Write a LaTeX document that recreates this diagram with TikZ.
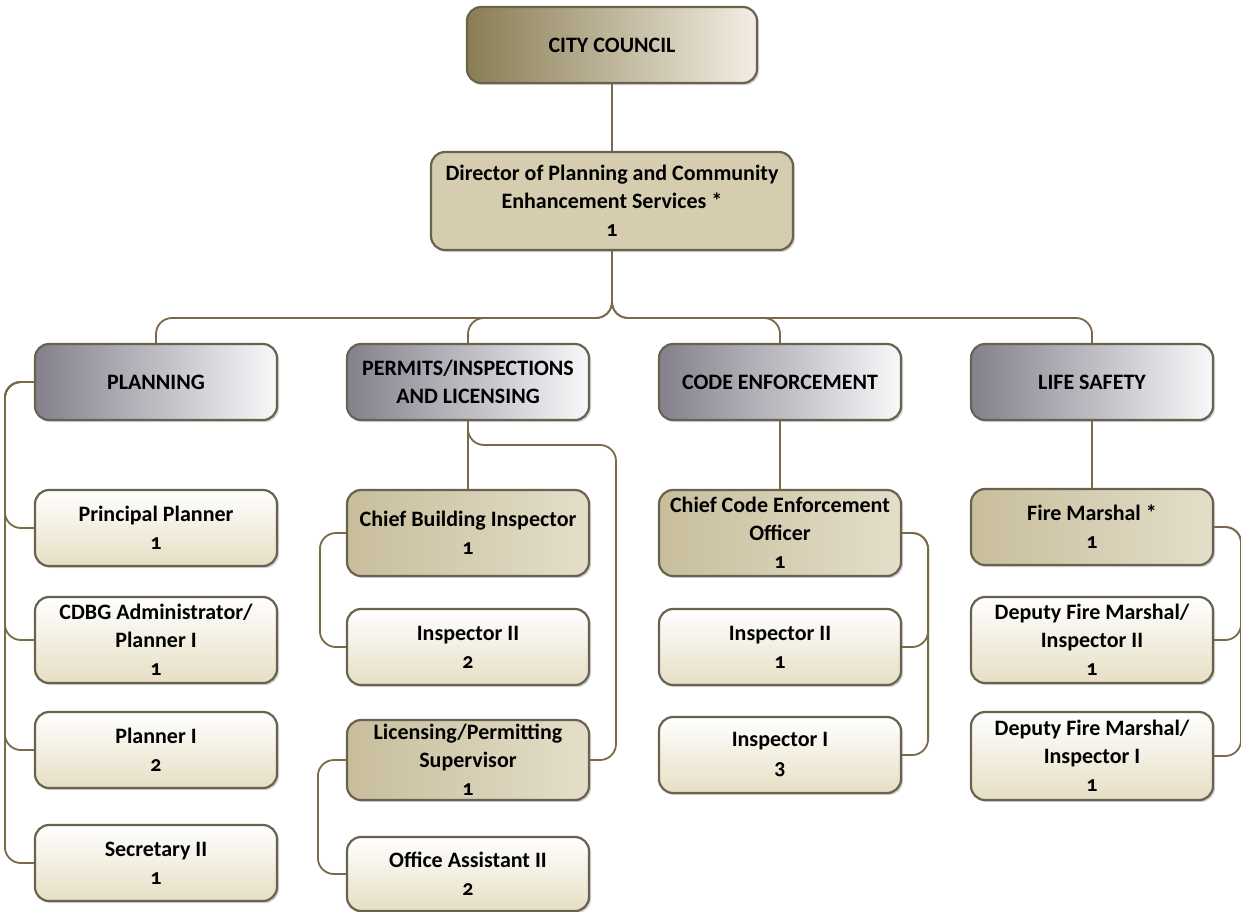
\documentclass[tikz,border=0pt]{standalone}
\usepackage{fontspec}
\setmainfont{Carlito}[Numbers=OldStyle]
\usetikzlibrary{shadows}

\definecolor{linkc}{RGB}{122,106,72}
\definecolor{edgec}{RGB}{105,98,78}
\definecolor{cityL}{RGB}{138,125,84}
\definecolor{cityR}{RGB}{242,238,226}
\definecolor{dirc}{RGB}{214,205,176}
\definecolor{deptL}{RGB}{132,128,140}
\definecolor{deptR}{RGB}{248,248,250}
\definecolor{chiefL}{RGB}{200,190,156}
\definecolor{chiefR}{RGB}{228,222,202}
\definecolor{leafB}{RGB}{230,222,196}

\tikzset{
  box/.style={draw=edgec, line width=1.1pt, rounded corners=7pt,
    minimum width=121pt, minimum height=38pt, inner sep=2pt, align=center,
    font=\fontsize{11}{14}\selectfont\bfseries,
    drop shadow={opacity=0.35, shadow xshift=1pt, shadow yshift=-1pt}},
  citybox/.style={box, left color=cityL, right color=cityR, minimum width=145pt},
  dirbox/.style={box, fill=dirc, minimum width=181pt, minimum height=49pt},
  deptbox/.style={box, left color=deptL, right color=deptR},
  chiefbox/.style={box, left color=chiefL, right color=chiefR},
  leafbox/.style={box, top color=white, bottom color=leafB},
  link/.style={draw=linkc, line width=0.9pt, rounded corners=8pt}
}

\begin{document}
\begin{tikzpicture}[x=0.5pt, y=-0.5pt]
  \useasboundingbox (0,0) rectangle (1241,911);

  % top levels
  \node[citybox] (city) at (612,45) {CITY COUNCIL};
  \node[dirbox] (dir) at (612,201) {Director of Planning and Community\\Enhancement Services *\\1};

  % departments
  \node[deptbox] (plan) at (156,382) {PLANNING};
  \node[deptbox] (perm) at (468,382) {PERMITS/INSPECTIONS\\AND LICENSING};
  \node[deptbox] (code) at (780,382) {CODE ENFORCEMENT};
  \node[deptbox] (life) at (1092,382) {LIFE SAFETY};

  % planning
  \node[leafbox] (pp) at (156,528) {Principal Planner\\1};
  \node[leafbox, minimum height=43pt] (cdbg) at (156,640) {CDBG Administrator/\\Planner I\\1};
  \node[leafbox] (pl1) at (156,750) {Planner I\\2};
  \node[leafbox] (sec) at (156,863) {Secretary II\\1};

  % permits
  \node[chiefbox, minimum height=43pt] (cbi) at (468,533) {Chief Building Inspector\\1};
  \node[leafbox] (pin2) at (468,647) {Inspector II\\2};
  \node[chiefbox, minimum height=40pt] (lic) at (468,760) {Licensing/Permitting\\Supervisor\\1};
  \node[leafbox, minimum height=37pt] (oa) at (468,874) {Office Assistant II\\2};

  % code enforcement
  \node[chiefbox, minimum height=43pt] (cceo) at (780,533) {Chief Code Enforcement\\Officer\\1};
  \node[leafbox] (cin2) at (780,647) {Inspector II\\1};
  \node[leafbox] (cin1) at (780,755) {Inspector I\\3};

  % life safety
  \node[chiefbox] (fm) at (1092,527) {Fire Marshal *\\1};
  \node[leafbox, minimum height=43pt] (dfm2) at (1092,640) {Deputy Fire Marshal/\\Inspector II\\1};
  \node[leafbox, minimum height=44pt] (dfm1) at (1092,756) {Deputy Fire Marshal/\\Inspector I\\1};

  % connectors
  \coordinate (bus) at (612,318);
  \coordinate (pbend) at (616,445);

  \draw[link] (city) -- (dir);
  \foreach \d in {plan, perm, code, life}
    \draw[link] (dir.south) |- (\d.north |- bus) -- (\d.north);

  \foreach \c in {pp, cdbg, pl1, sec}
    \draw[link] (plan.west) -- ++(-29,0) |- (\c.west);

  \draw[link] (perm) -- (cbi);
  \draw[link] (perm.south) |- (pbend) |- (lic.east);
  \draw[link] (cbi.west) -- ++(-26,0) |- (pin2.west);
  \draw[link] (lic.west) -- ++(-28,0) |- (oa.west);

  \draw[link] (code) -- (cceo);
  \foreach \c in {cin2, cin1}
    \draw[link] (cceo.east) -- ++(26,0) |- (\c.east);

  \draw[link] (life) -- (fm);
  \foreach \c in {dfm2, dfm1}
    \draw[link] (fm.east) -- ++(27,0) |- (\c.east);
\end{tikzpicture}
\end{document}
